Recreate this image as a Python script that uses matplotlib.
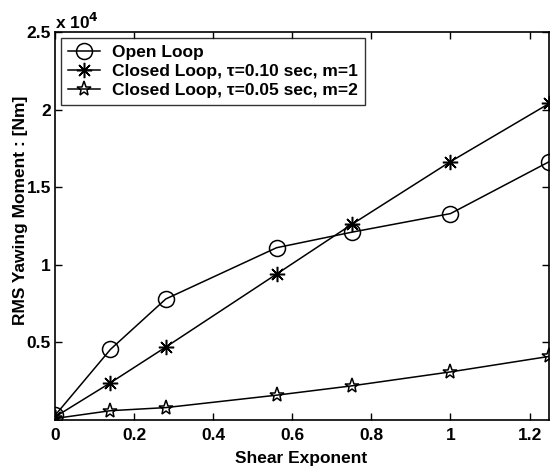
import matplotlib
matplotlib.use("Agg")
import matplotlib.pyplot as plt

matplotlib.rcParams.update({'font.family': ['Liberation Sans', 'DejaVu Sans'],
                            'font.weight': 'bold', 'axes.labelweight': 'bold',
                            'font.size': 12.5})

shear = [0, 0.14, 0.28, 0.56, 0.75, 1.0, 1.25]
open_loop = [300, 4550, 7800, 11100, 12100, 13300, 16650]
closed_010 = [200, 2400, 4700, 9400, 12600, 16650, 20400]
closed_005 = [100, 600, 800, 1600, 2200, 3100, 4100]

fig = plt.figure(figsize=(5.51, 4.66), dpi=100)
ax = fig.add_axes([0.1, 0.0987, 0.897, 0.8326])

kw = dict(color='k', lw=1.1, mfc='none', mec='k', mew=1.1)
ax.plot(shear, [v / 1e4 for v in open_loop], marker='o', ms=11.5,
        label='Open Loop', **kw)
ax.plot(shear, [v / 1e4 for v in closed_010], marker=(8, 2, 0), ms=11,
        label=u'Closed Loop, \u03c4=0.10 sec, m=1', **kw)
ax.plot(shear, [v / 1e4 for v in closed_005], marker='*', ms=11,
        label=u'Closed Loop, \u03c4=0.05 sec, m=2', **kw)

ax.set_xlim(0, 1.25)
ax.set_ylim(0, 2.5)
ax.set_xticks([0, 0.2, 0.4, 0.6, 0.8, 1, 1.2])
ax.set_xticklabels(['0', '0.2', '0.4', '0.6', '0.8', '1', '1.2'])
ax.set_yticks([0.5, 1, 1.5, 2, 2.5])
ax.set_yticklabels(['0.5', '1', '1.5', '2', '2.5'])
ax.tick_params(direction='in', top=True, right=True, length=5, width=1)
ax.tick_params(axis='x', pad=5.5)
ax.tick_params(axis='y', pad=3)
for s in ax.spines.values():
    s.set_linewidth(1.2)

ax.text(0.0, 1.0, r'x 10$^{\mathbf{4}}$', transform=ax.transAxes,
        ha='left', va='bottom', fontsize=12.5, fontweight='bold')

ax.set_xlabel('Shear Exponent')
ax.set_ylabel('RMS Yawing Moment : [Nm]')
ax.xaxis.set_label_coords(0.498, -0.098)
ax.xaxis.label.set_va('center')
ax.yaxis.set_label_coords(-0.069, 0.541)
ax.yaxis.label.set_va('center')

leg = ax.legend(loc='upper left', frameon=True, fancybox=False, edgecolor='k',
                borderaxespad=0.36, handlelength=1.8, borderpad=0.4,
                labelspacing=0.22, handletextpad=0.7)
leg.get_frame().set_linewidth(1.0)

fig.savefig('out.png', dpi=100)
